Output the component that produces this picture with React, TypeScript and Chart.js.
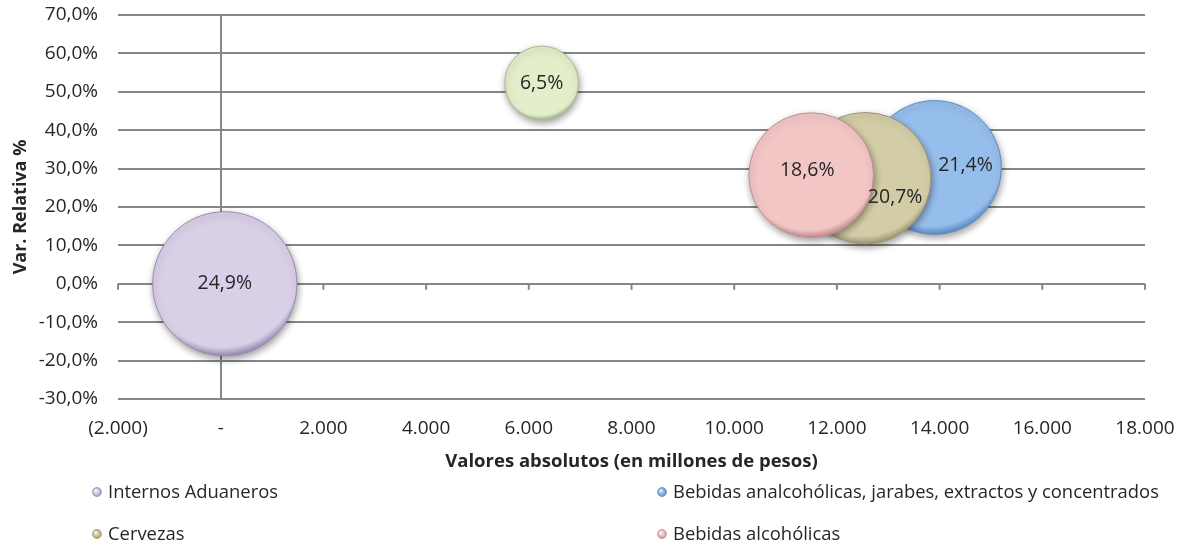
import React, { useEffect, useRef } from "react";
import { Chart, registerables } from "chart.js";

Chart.register(...registerables);

// ---- Data ----
const seriesNames = [
  "Internos Aduaneros",
  "Bebidas analcohólicas, jarabes, extractos y concentrados",
  "Cervezas",
  "Bebidas alcohólicas",
  "Otros",
];
// Valores absolutos (en millones de pesos)
const xValues = [80, 13900, 12550, 11500, 6250];
// Var. Relativa %
const yValues = [0.0, 30.3, 27.5, 28.3, 52.3];
// Participación (bubble size and label)
const shares = [24.9, 21.4, 20.7, 18.6, 6.5];
const showInLegend = [true, true, true, true, false];

const xTickValues = [-2000, 0, 2000, 4000, 6000, 8000, 10000, 12000, 14000, 16000, 18000];

// ---- Styles ----
const fillColors = ["#D9CFE7", "#96BEEC", "#D3CDA7", "#F3C6C6", "#E3EECB"];
const edgeColors = ["#9A8BB2", "#5E8BC4", "#9E9672", "#C48D8D", "#A8B98C"];
const drawOrder = [3, 2, 1, 0, 4];
const labelShift = [
  [0, 0],
  [31, -2],
  [30, 19],
  [-4, -5],
  [0, 0],
];
const BUBBLE_SCALE = 14.45;
const FONT = "'Open Sans', 'DejaVu Sans', sans-serif";
const GRID = "#868686";
const TEXT = "#262626";

const fmtX = (v: number) => {
  if (v === 0) return "-";
  const s = Math.abs(v).toString().replace(/\B(?=(\d{3})+(?!\d))/g, ".");
  return v < 0 ? `(${s})` : s;
};
const fmtPct = (v: number) => v.toFixed(1).replace(".", ",") + "%";

export default function App() {
  const ref = useRef<HTMLCanvasElement | null>(null);

  useEffect(() => {
    document.body.style.margin = "0";
    const canvas = ref.current;
    if (!canvas) return;

    const gradientFor = (i: number) => (ctx: any) => {
      const chart = ctx.chart;
      const raw = ctx.raw;
      if (!raw || !chart.scales || !chart.scales.x || !chart.scales.y) return fillColors[i];
      const cx = chart.scales.x.getPixelForValue(raw.x);
      const cy = chart.scales.y.getPixelForValue(raw.y);
      const r = raw.r;
      if (![cx, cy, r].every((v) => Number.isFinite(v))) return fillColors[i];
      const ox = cx - r * 0.05;
      const oy = cy - r * 0.22;
      const g = chart.ctx.createRadialGradient(ox, oy, 0, ox, oy, r * 1.22);
      g.addColorStop(0, fillColors[i]);
      g.addColorStop(0.9, fillColors[i]);
      g.addColorStop(1, edgeColors[i]);
      return g;
    };

    const datasets = seriesNames.map((name, i) => ({
      label: name,
      data: [{ x: xValues[i], y: yValues[i], r: BUBBLE_SCALE * Math.sqrt(shares[i]) }],
      backgroundColor: gradientFor(i),
      borderColor: edgeColors[i],
      borderWidth: 1,
      order: drawOrder[i],
    }));

    const axisMarks = {
      id: "axisMarks",
      beforeDatasetsDraw(chart: any) {
        const { ctx, scales } = chart;
        const y0 = scales.y.getPixelForValue(0);
        ctx.save();
        ctx.strokeStyle = GRID;
        ctx.lineWidth = 2;
        xTickValues.forEach((v) => {
          const px = scales.x.getPixelForValue(v);
          ctx.beginPath();
          ctx.moveTo(px, y0);
          ctx.lineTo(px, y0 + 6);
          ctx.stroke();
        });
        ctx.restore();
      },
    };

    const shadow = {
      id: "bubbleShadow",
      beforeDatasetDraw(chart: any) {
        const c = chart.ctx;
        c.save();
        c.shadowColor = "rgba(0,0,0,0.38)";
        c.shadowBlur = 7;
        c.shadowOffsetX = 1;
        c.shadowOffsetY = 3;
      },
      afterDatasetDraw(chart: any) {
        chart.ctx.restore();
      },
    };

    const labels = {
      id: "bubbleLabels",
      afterDatasetsDraw(chart: any) {
        const { ctx } = chart;
        ctx.save();
        ctx.font = `19.5px ${FONT}`;
        ctx.fillStyle = TEXT;
        ctx.textAlign = "center";
        ctx.textBaseline = "middle";
        chart.data.datasets.forEach((ds: any, i: number) => {
          const el = chart.getDatasetMeta(i).data[0];
          if (!el) return;
          ctx.fillText(fmtPct(shares[i]), el.x + labelShift[i][0], el.y + labelShift[i][1]);
        });
        ctx.restore();
      },
    };

    const titlesAndLegend = {
      id: "titlesAndLegend",
      afterDraw(chart: any) {
        const { ctx, chartArea } = chart;
        ctx.save();
        ctx.fillStyle = TEXT;
        ctx.font = `bold 18.5px ${FONT}`;
        ctx.textAlign = "center";
        ctx.textBaseline = "middle";
        ctx.fillText("Valores absolutos (en millones de pesos)", (chartArea.left + chartArea.right) / 2, 462);
        ctx.save();
        ctx.font = `bold 18px ${FONT}`;
        ctx.translate(21, (chartArea.top + chartArea.bottom) / 2);
        ctx.rotate(-Math.PI / 2);
        ctx.fillText("Var. Relativa %", 0, 0);
        ctx.restore();
        const slots = [
          [97, 492],
          [662, 492],
          [97, 534],
          [662, 534],
        ];
        ctx.font = `18.4px ${FONT}`;
        ctx.textAlign = "left";
        let k = 0;
        seriesNames.forEach((name, i) => {
          if (!showInLegend[i]) return;
          const [mx, my] = slots[k++];
          const g = ctx.createRadialGradient(mx - 1.5, my - 1.5, 0, mx, my, 5);
          g.addColorStop(0, "#ffffff");
          g.addColorStop(0.45, fillColors[i]);
          g.addColorStop(1, edgeColors[i]);
          ctx.beginPath();
          ctx.arc(mx, my, 4.5, 0, Math.PI * 2);
          ctx.fillStyle = g;
          ctx.fill();
          ctx.strokeStyle = edgeColors[i];
          ctx.lineWidth = 0.7;
          ctx.stroke();
          ctx.fillStyle = TEXT;
          ctx.fillText(name, mx + 11, my + 1);
        });
        ctx.restore();
      },
    };

    const chart = new Chart(canvas, {
      type: "bubble",
      data: { datasets },
      options: {
        responsive: false,
        animation: false,
        devicePixelRatio: 1,
        layout: { autoPadding: false, padding: { left: 0, right: 34, top: 15, bottom: 0 } },
        plugins: {
          legend: { display: false },
          tooltip: { enabled: false },
        },
        scales: {
          x: {
            type: "linear",
            min: -2000,
            max: 18000,
            afterFit: (s: any) => {
              s.height = 147;
              s.paddingLeft = 0;
              s.paddingRight = 0;
            },
            ticks: {
              stepSize: 2000,
              padding: 18,
              maxRotation: 0,
              autoSkip: false,
              color: TEXT,
              font: { family: FONT, size: 19 },
              callback: (v: any) => fmtX(Number(v)),
            },
            grid: {
              drawTicks: false,
              lineWidth: 2,
              color: (c: any) => (c.tick && c.tick.value === 0 ? GRID : "rgba(0,0,0,0)"),
            },
            border: { display: false },
          },
          y: {
            type: "linear",
            min: -30,
            max: 70,
            afterFit: (s: any) => {
              s.width = 118;
              s.paddingTop = 0;
              s.paddingBottom = 0;
            },
            ticks: {
              stepSize: 10,
              padding: 20,
              color: TEXT,
              font: { family: FONT, size: 19 },
              callback: (v: any) => fmtPct(Number(v)),
            },
            grid: { drawTicks: false, lineWidth: 2, color: GRID },
            border: { display: false },
          },
        },
      },
      plugins: [axisMarks, shadow, labels, titlesAndLegend],
    } as any);

    return () => chart.destroy();
  }, []);

  return (
    <div style={{ width: 1179, height: 546, background: "#ffffff" }}>
      <canvas ref={ref} width={1179} height={546} style={{ display: "block" }} />
    </div>
  );
}
